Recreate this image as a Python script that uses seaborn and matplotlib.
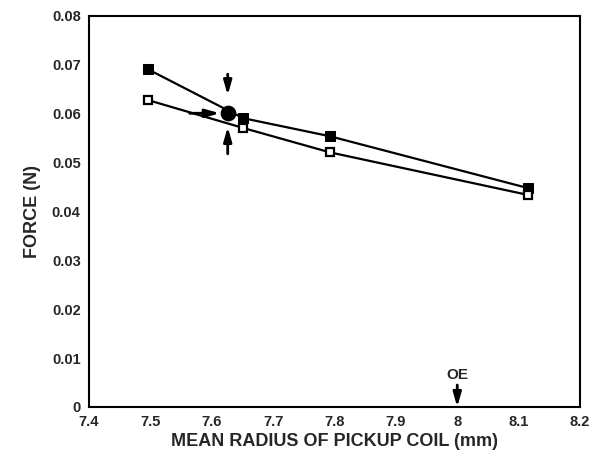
import matplotlib
matplotlib.use("Agg")
import matplotlib.pyplot as plt
import seaborn as sns
import pandas as pd

radius = [7.496, 7.651, 7.7925, 8.115]
force_filled = [0.0691, 0.0591, 0.0554, 0.0448]
force_open = [0.0628, 0.0571, 0.0521, 0.0434]
point_x = [7.626]
point_y = [0.0601]
oe_x = 8.0

sns.set_theme(style="white")
plt.rcParams['font.family'] = ['Liberation Sans', 'DejaVu Sans']
plt.rcParams['font.weight'] = 'bold'

fig = plt.figure(figsize=(6.01, 4.62), dpi=100)
ax = fig.add_axes([89/601, 55/462, 491/601, 391/462])

df_f = pd.DataFrame({"x": radius, "y": force_filled})
df_o = pd.DataFrame({"x": radius, "y": force_open})

sns.lineplot(data=df_f, x="x", y="y", ax=ax, color="black", lw=1.6,
             marker="s", markersize=7, markerfacecolor="black",
             markeredgecolor="black")
sns.lineplot(data=df_o, x="x", y="y", ax=ax, color="black", lw=1.6,
             marker="s", markersize=6, markerfacecolor="white",
             markeredgecolor="black", markeredgewidth=1.6)
sns.scatterplot(x=point_x, y=point_y, ax=ax, color="black", s=110,
                edgecolor="black", zorder=5)

px, py = point_x[0], point_y[0]
arr = dict(arrowstyle="-|>,head_length=0.7,head_width=0.2", color="black", lw=2,
           shrinkA=0, shrinkB=0)
ax.annotate("", xy=(px, py + 0.0037), xytext=(px, py + 0.0080), arrowprops=arr)
ax.annotate("", xy=(px, py - 0.0028), xytext=(px, py - 0.0083), arrowprops=arr)
ax.annotate("", xy=(px - 0.013, py), xytext=(px - 0.062, py), arrowprops=arr)
ax.annotate("", xy=(oe_x, 0.0), xytext=(oe_x, 0.0045), arrowprops=arr)
ax.text(oe_x, 0.0052, "OE", ha="center", va="bottom", fontsize=11, fontweight="bold")

ax.set_xlim(7.4, 8.2)
ax.set_ylim(0, 0.08)
ax.set_xticks([7.4, 7.5, 7.6, 7.7, 7.8, 7.9, 8.0, 8.1, 8.2])
ax.set_xticklabels(["7.4", "7.5", "7.6", "7.7", "7.8", "7.9", "8", "8.1", "8.2"])
ax.set_yticks([0, 0.01, 0.02, 0.03, 0.04, 0.05, 0.06, 0.07, 0.08])
ax.set_yticklabels(["0", "0.01", "0.02", "0.03", "0.04", "0.05", "0.06", "0.07", "0.08"])
for s in ax.spines.values():
    s.set_color("black")
    s.set_linewidth(1.5)
ax.tick_params(axis="both", direction="out", length=4, width=1.3, color="black",
               labelsize=10.5, pad=2)
for lab in ax.get_xticklabels() + ax.get_yticklabels():
    lab.set_fontweight("bold")
ax.set_xlabel("MEAN RADIUS OF PICKUP COIL (mm)", fontsize=13, fontweight="bold", labelpad=3)
ax.set_ylabel("FORCE (N)", fontsize=13, fontweight="bold", labelpad=8)

fig.savefig("out.png", dpi=100)
